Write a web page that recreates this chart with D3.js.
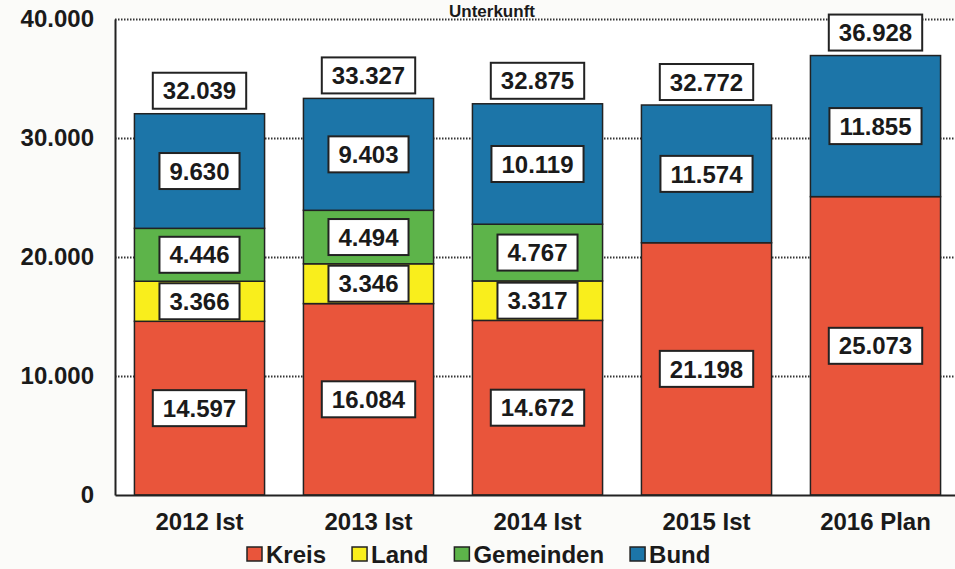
<!DOCTYPE html>
<html lang="de">
<head>
    <meta charset="UTF-8">
    <title>Unterkunft</title>
    <script src="https://cdnjs.cloudflare.com/ajax/libs/d3/7.8.5/d3.min.js"></script>
    <style>
        body { margin: 0; background: #fbfbf9; }
        svg { display: block; font-family: "Liberation Sans", Arial, sans-serif; font-weight: bold; }
        .grid line { stroke: #333; stroke-width: 2; stroke-dasharray: 1.5,1.5; }
        .grid path { display: none; }
    </style>
</head>
<body>
<div id="chart"></div>
<script>
    const years = ["2012 Ist", "2013 Ist", "2014 Ist", "2015 Ist", "2016 Plan"];
    const kreis = [14597, 16084, 14672, 21198, 25073];
    const land = [3366, 3346, 3317, 0, 0];
    const gemeinden = [4446, 4494, 4767, 0, 0];
    const bund = [9630, 9403, 10119, 11574, 11855];
    const totals = [32039, 33327, 32875, 32772, 36928];
    const yTicks = [0, 10000, 20000, 30000, 40000];

    const seriesNames = ["Kreis", "Land", "Gemeinden", "Bund"];
    const colors = ["#e9553b", "#f9ee1c", "#5db44a", "#1c75a8"];

    const W = 955, H = 569;
    const plotLeft = 115, plotRight = 960, plotTop = 19, plotBottom = 495;

    const rows = years.map((y, i) => ({
        year: y, Kreis: kreis[i], Land: land[i], Gemeinden: gemeinden[i], Bund: bund[i], total: totals[i]
    }));

    const de = d3.formatLocale({ decimal: ",", thousands: ".", grouping: [3], currency: ["", " €"] });
    const fmt = de.format(",d");

    const svg = d3.select("#chart").append("svg")
        .attr("width", W)
        .attr("height", H);

    const x = d3.scaleBand().domain(years).range([plotLeft, plotRight]).paddingInner(0.23).paddingOuter(0.115);
    const y = d3.scaleLinear().domain([0, 40000]).range([plotBottom, plotTop]);

    // title (mostly cut off in the scan, kept small so it stays inside)
    svg.append("text")
        .attr("x", 492)
        .attr("y", 17)
        .attr("text-anchor", "middle")
        .style("font-size", "17px")
        .attr("fill", "#1a1a1a")
        .text("Unterkunft");

    // plot area
    svg.append("rect")
        .attr("x", plotLeft).attr("y", plotTop)
        .attr("width", plotRight - plotLeft).attr("height", plotBottom - plotTop)
        .attr("fill", "#fff");

    svg.append("g")
        .attr("class", "grid")
        .attr("transform", `translate(${plotLeft},0)`)
        .call(d3.axisLeft(y).tickValues(yTicks.filter(d => d > 0)).tickSize(-(plotRight - plotLeft)).tickFormat(""));

    const stacked = d3.stack().keys(seriesNames)(rows);

    const layers = svg.append("g").selectAll("g")
        .data(stacked)
        .enter().append("g")
        .attr("fill", (d, i) => colors[i]);

    layers.selectAll("rect")
        .data(d => d.filter(s => s[1] > s[0]))
        .enter().append("rect")
        .attr("x", d => x(d.data.year))
        .attr("y", d => y(d[1]))
        .attr("width", x.bandwidth())
        .attr("height", d => y(d[0]) - y(d[1]))
        .attr("stroke", "#222")
        .attr("stroke-width", 1.5);

    // axes
    const yAxis = svg.append("g")
        .attr("transform", `translate(${plotLeft},0)`)
        .call(d3.axisLeft(y).tickValues(yTicks).tickSize(0).tickPadding(21).tickFormat(d => fmt(d)));
    yAxis.select(".domain").attr("stroke", "#222").attr("stroke-width", 2);
    yAxis.selectAll("text").style("font-size", "24px").attr("fill", "#1a1a1a");

    const xAxis = svg.append("g")
        .attr("transform", `translate(0,${plotBottom})`)
        .call(d3.axisBottom(x).tickSize(0).tickPadding(18));
    xAxis.select(".domain").attr("stroke", "#222").attr("stroke-width", 2);
    xAxis.selectAll("text").style("font-size", "24px").attr("fill", "#1a1a1a");

    // boxed value labels
    function boxLabel(cx, cy, value) {
        const g = svg.append("g").attr("transform", `translate(${cx},${cy})`);
        const t = g.append("text")
            .attr("text-anchor", "middle")
            .attr("dy", "0.36em")
            .style("font-size", "24px")
            .attr("fill", "#1a1a1a")
            .text(fmt(value));
        const w = t.node().getComputedTextLength() + 20;
        g.insert("rect", "text")
            .attr("x", -w / 2).attr("y", -18)
            .attr("width", w).attr("height", 36)
            .attr("fill", "#fff")
            .attr("stroke", "#222")
            .attr("stroke-width", 2);
    }

    stacked.forEach(layer => {
        layer.forEach(s => {
            if (s[1] > s[0]) {
                boxLabel(x(s.data.year) + x.bandwidth() / 2, (y(s[0]) + y(s[1])) / 2, s[1] - s[0]);
            }
        });
    });

    rows.forEach(r => {
        boxLabel(x(r.year) + x.bandwidth() / 2, y(r.total) - 23, r.total);
    });

    // legend
    const legend = svg.append("g").attr("transform", "translate(247,554)");
    let lx = 0;
    seriesNames.forEach((name, i) => {
        const item = legend.append("g").attr("transform", `translate(${lx},0)`);
        item.append("rect")
            .attr("x", 0).attr("y", -7)
            .attr("width", 15).attr("height", 14)
            .attr("fill", colors[i])
            .attr("stroke", "#222")
            .attr("stroke-width", 1.5);
        const t = item.append("text")
            .attr("x", 19)
            .attr("dy", "0.36em")
            .style("font-size", "24px")
            .attr("fill", "#1a1a1a")
            .text(name);
        lx += 19 + t.node().getComputedTextLength() + 26;
    });
</script>
</body>
</html>
